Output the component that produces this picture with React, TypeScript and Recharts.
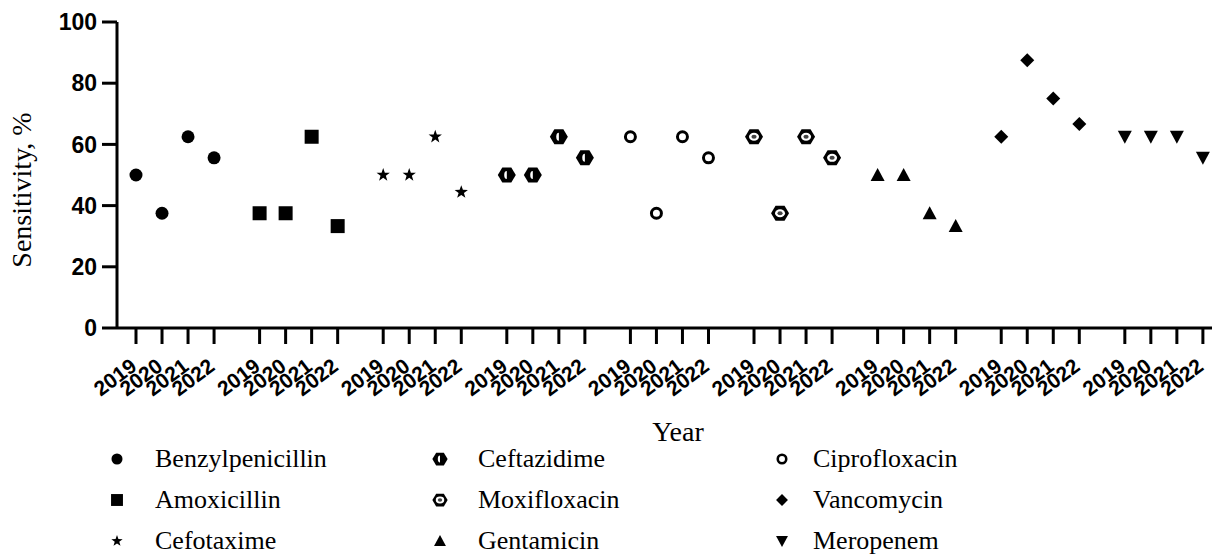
import React from 'react';
import { ScatterChart, Scatter, XAxis, YAxis } from 'recharts';

const years = ['2019', '2020', '2021', '2022'];
const drugs = [
  'Benzylpenicillin',
  'Amoxicillin',
  'Cefotaxime',
  'Ceftazidime',
  'Ciprofloxacin',
  'Moxifloxacin',
  'Gentamicin',
  'Vancomycin',
  'Meropenem',
];

// sensitivity, % per year 2019..2022
const benzylpenicillin = [50, 37.5, 62.5, 55.6];
const amoxicillin = [37.5, 37.5, 62.5, 33.3];
const cefotaxime = [50, 50, 62.5, 44.4];
const ceftazidime = [50, 50, 62.5, 55.6];
const ciprofloxacin = [62.5, 37.5, 62.5, 55.6];
const moxifloxacin = [62.5, 37.5, 62.5, 55.6];
const gentamicin = [50, 50, 37.5, 33.3];
const vancomycin = [62.5, 87.5, 75, 66.7];
const meropenem = [62.5, 62.5, 62.5, 55.6];

const yTicks = [0, 20, 40, 60, 80, 100];

// legend is laid out in columns in this order
const legendOrder = [
  'Benzylpenicillin',
  'Amoxicillin',
  'Cefotaxime',
  'Ceftazidime',
  'Moxifloxacin',
  'Gentamicin',
  'Ciprofloxacin',
  'Vancomycin',
  'Meropenem',
];

const seriesValues = [
  benzylpenicillin,
  amoxicillin,
  cefotaxime,
  ceftazidime,
  ciprofloxacin,
  moxifloxacin,
  gentamicin,
  vancomycin,
  meropenem,
];
const markerKinds = ['circle', 'square', 'star', 'hexHalf', 'ring', 'hexRing', 'triUp', 'diamond', 'triDown'];

// groups of 4 years, with a small gap between drugs
const GROUP = 4.75;
const pos = (g: number, i: number) => g * GROUP + i;

const xTicks: number[] = [];
const tickLabel: Record<string, string> = {};
drugs.forEach((_, g) =>
  years.forEach((yr, i) => {
    const p = pos(g, i);
    xTicks.push(p);
    tickLabel[p.toFixed(2)] = yr;
  })
);

const seriesData = seriesValues.map((vals, g) => vals.map((v, i) => ({ x: pos(g, i), y: v })));

const SERIF = '"Liberation Serif", "Times New Roman", serif';
const SANS = '"Liberation Sans", Arial, sans-serif';

function starPath(cx: number, cy: number, ro: number, ri: number) {
  let d = '';
  for (let k = 0; k < 10; k++) {
    const r = k % 2 === 0 ? ro : ri;
    const a = -Math.PI / 2 + (k * Math.PI) / 5;
    d += (k === 0 ? 'M' : 'L') + (cx + r * Math.cos(a)).toFixed(2) + ' ' + (cy + r * Math.sin(a)).toFixed(2);
  }
  return d + 'Z';
}

function hexPoints(cx: number, cy: number, s: number) {
  const w = 9 * s;
  const h = 7.5 * s;
  return `${cx - w},${cy} ${cx - w / 2},${cy - h} ${cx + w / 2},${cy - h} ${cx + w},${cy} ${cx + w / 2},${cy + h} ${cx - w / 2},${cy + h}`;
}

function Marker({ kind, cx, cy, s = 1 }: { kind: string; cx: number; cy: number; s?: number }) {
  switch (kind) {
    case 'circle':
      return <circle cx={cx} cy={cy} r={6.5 * s} fill="#000" />;
    case 'square':
      return <rect x={cx - 7 * s} y={cy - 7 * s} width={14 * s} height={14 * s} fill="#000" />;
    case 'star':
      return <path d={starPath(cx, cy, 7 * s, 2.8 * s)} fill="#000" />;
    case 'hexHalf':
      return (
        <g>
          <polygon points={hexPoints(cx, cy, s)} fill="#000" />
          <path
            d={`M${cx} ${cy - 4 * s} A${2.6 * s} ${4 * s} 0 0 0 ${cx} ${cy + 4 * s} Z`}
            fill="#fff"
          />
        </g>
      );
    case 'hexRing':
      return (
        <g>
          <polygon points={hexPoints(cx, cy, s)} fill="#000" />
          <ellipse cx={cx} cy={cy} rx={5 * s} ry={4 * s} fill="#fff" />
          <ellipse cx={cx} cy={cy} rx={2.6 * s} ry={2 * s} fill="#444" />
        </g>
      );
    case 'ring':
      return <circle cx={cx} cy={cy} r={5 * s} fill="#fff" stroke="#000" strokeWidth={3 * s} />;
    case 'diamond':
      return (
        <polygon
          points={`${cx},${cy - 7 * s} ${cx + 7 * s},${cy} ${cx},${cy + 7 * s} ${cx - 7 * s},${cy}`}
          fill="#000"
        />
      );
    case 'triUp':
      return (
        <polygon
          points={`${cx},${cy - 7 * s} ${cx + 7 * s},${cy + 6 * s} ${cx - 7 * s},${cy + 6 * s}`}
          fill="#000"
        />
      );
    case 'triDown':
      return (
        <polygon
          points={`${cx},${cy + 7 * s} ${cx + 7 * s},${cy - 6 * s} ${cx - 7 * s},${cy - 6 * s}`}
          fill="#000"
        />
      );
    default:
      return null;
  }
}

const YearTick = (props: any) => {
  const { x, y, payload } = props;
  const ax = x + 2;
  const ay = y + 23;
  return (
    <text
      x={ax}
      y={ay}
      transform={`rotate(-37 ${ax} ${ay})`}
      textAnchor="end"
      fontFamily={SANS}
      fontWeight="bold"
      fontSize={21}
      fill="#000"
    >
      {tickLabel[Number(payload.value).toFixed(2)]}
    </text>
  );
};

// legend layout: 3 columns x 3 rows
const legendMarkerX = [117, 440, 782];
const legendTextX = [155, 478, 813];
const legendRows = [459, 500, 541];

export default function App() {
  return (
    <div style={{ position: 'absolute', left: 0, top: 0, width: 1215, height: 556, background: '#fff' }}>
      <ScatterChart width={1215} height={556} margin={{ top: 22, right: 3, bottom: 168, left: 0 }}>
        <XAxis
          type="number"
          dataKey="x"
          domain={[-0.73, pos(8, 3) + 0.35]}
          ticks={xTicks}
          interval={0}
          tick={<YearTick />}
          tickSize={16}
          height={60}
          axisLine={{ stroke: '#000', strokeWidth: 3 }}
          tickLine={{ stroke: '#000', strokeWidth: 3 }}
          allowDataOverflow
        />
        <YAxis
          type="number"
          dataKey="y"
          domain={[0, 100]}
          ticks={yTicks}
          interval={0}
          width={117}
          tickSize={15}
          tickMargin={5}
          tick={{ fill: '#000', fontSize: 23, fontWeight: 'bold', fontFamily: SANS }}
          axisLine={{ stroke: '#000', strokeWidth: 3 }}
          tickLine={{ stroke: '#000', strokeWidth: 3 }}
        />
        {seriesData.map((d, g) => (
          <Scatter
            key={drugs[g]}
            name={drugs[g]}
            data={d}
            isAnimationActive={false}
            shape={(p: any) => <Marker kind={markerKinds[g]} cx={p.cx} cy={p.cy} />}
          />
        ))}
      </ScatterChart>
      <svg
        width={1215}
        height={556}
        style={{ position: 'absolute', left: 0, top: 0, pointerEvents: 'none' }}
      >
        <text
          transform="translate(31 190) rotate(-90)"
          textAnchor="middle"
          fontFamily={SERIF}
          fontSize={28}
          fill="#000"
        >
          Sensitivity, %
        </text>
        <text x={678} y={441} textAnchor="middle" fontFamily={SERIF} fontSize={28} fill="#000">
          Year
        </text>
        {legendOrder.map((name, k) => {
          const g = drugs.indexOf(name);
          const col = Math.floor(k / 3);
          const row = k % 3;
          const my = legendRows[row];
          return (
            <g key={name}>
              <Marker kind={markerKinds[g]} cx={legendMarkerX[col]} cy={my} s={0.85} />
              <text x={legendTextX[col]} y={my + 8} fontFamily={SERIF} fontSize={26} fill="#000">
                {name}
              </text>
            </g>
          );
        })}
      </svg>
    </div>
  );
}
